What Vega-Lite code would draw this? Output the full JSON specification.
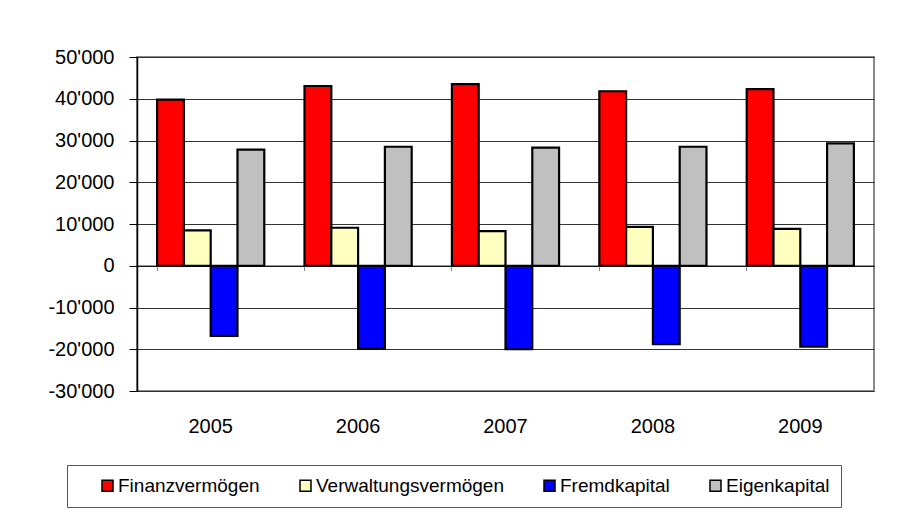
{
  "$schema": "https://vega.github.io/schema/vega-lite/v6.json",
  "width": 737,
  "height": 334,
  "autosize": {"type": "none"},
  "padding": {"left": 137, "top": 57, "right": 23, "bottom": 125},
  "background": "white",
  "data": {
    "values": [
      {"Jahr": "2005", "Serie": "Finanzvermögen", "Wert": 39800},
      {"Jahr": "2005", "Serie": "Verwaltungsvermögen", "Wert": 8450},
      {"Jahr": "2005", "Serie": "Fremdkapital", "Wert": -16800},
      {"Jahr": "2005", "Serie": "Eigenkapital", "Wert": 27800},
      {"Jahr": "2006", "Serie": "Finanzvermögen", "Wert": 43050},
      {"Jahr": "2006", "Serie": "Verwaltungsvermögen", "Wert": 9100},
      {"Jahr": "2006", "Serie": "Fremdkapital", "Wert": -19900},
      {"Jahr": "2006", "Serie": "Eigenkapital", "Wert": 28500},
      {"Jahr": "2007", "Serie": "Finanzvermögen", "Wert": 43500},
      {"Jahr": "2007", "Serie": "Verwaltungsvermögen", "Wert": 8300},
      {"Jahr": "2007", "Serie": "Fremdkapital", "Wert": -20000},
      {"Jahr": "2007", "Serie": "Eigenkapital", "Wert": 28300},
      {"Jahr": "2008", "Serie": "Finanzvermögen", "Wert": 41800},
      {"Jahr": "2008", "Serie": "Verwaltungsvermögen", "Wert": 9300},
      {"Jahr": "2008", "Serie": "Fremdkapital", "Wert": -18800},
      {"Jahr": "2008", "Serie": "Eigenkapital", "Wert": 28500},
      {"Jahr": "2009", "Serie": "Finanzvermögen", "Wert": 42300},
      {"Jahr": "2009", "Serie": "Verwaltungsvermögen", "Wert": 8850},
      {"Jahr": "2009", "Serie": "Fremdkapital", "Wert": -19400},
      {"Jahr": "2009", "Serie": "Eigenkapital", "Wert": 29300}
    ]
  },
  "mark": {"type": "bar", "stroke": "black", "strokeWidth": 2.2},
  "encoding": {
    "x": {
      "field": "Jahr",
      "type": "nominal",
      "scale": {"paddingInner": 0.273, "paddingOuter": 0.1365},
      "axis": {
        "title": null,
        "orient": "bottom",
        "offset": -125.4,
        "domainColor": "#000000",
        "domainWidth": 1,
        "ticks": true,
        "bandPosition": 0,
        "tickColor": "#888888",
        "tickSize": 5,
        "labelPadding": 146,
        "labelFontSize": 20,
        "labelAngle": 0,
        "labelColor": "#000000",
        "grid": false,
        "zindex": 1
      }
    },
    "xOffset": {
      "field": "Serie",
      "type": "nominal",
      "sort": ["Finanzvermögen", "Verwaltungsvermögen", "Fremdkapital", "Eigenkapital"],
      "scale": {"paddingInner": 0, "paddingOuter": 0}
    },
    "y": {
      "field": "Wert",
      "type": "quantitative",
      "scale": {"domain": [-30000, 50000], "nice": false, "zero": false},
      "axis": {
        "title": null,
        "values": [-30000, -20000, -10000, 0, 10000, 20000, 30000, 40000, 50000],
        "labelExpr": "(datum.value < 0 ? '-' : '') + replace(format(abs(datum.value), ','), ',', \"'\")",
        "grid": true,
        "gridColor": "#333333",
        "gridWidth": 1,
        "domainColor": "#000000",
        "domainWidth": 1.5,
        "tickColor": "#000000",
        "tickSize": 8,
        "labelPadding": 15,
        "labelFontSize": 20,
        "labelColor": "#000000"
      }
    },
    "color": {
      "field": "Serie",
      "type": "nominal",
      "scale": {
        "domain": ["Finanzvermögen", "Verwaltungsvermögen", "Fremdkapital", "Eigenkapital"],
        "range": ["#FF0000", "#FFFFC0", "#0000FF", "#C0C0C0"]
      },
      "legend": {
        "orient": "none",
        "legendX": -70,
        "legendY": 408,
        "direction": "horizontal",
        "columns": 4,
        "title": " ",
        "titleOrient": "left",
        "titleFontSize": 1,
        "titlePadding": 20,
        "padding": 11,
        "strokeColor": "#555555",
        "symbolType": "square",
        "symbolSize": 121,
        "symbolStrokeColor": "#000000",
        "symbolStrokeWidth": 1.5,
        "symbolOpacity": 1,
        "labelFontSize": 19,
        "labelColor": "#000000",
        "labelOffset": 1,
        "labelLimit": 400,
        "columnPadding": 36
      }
    }
  },
  "config": {
    "font": "Liberation Sans",
    "view": {"stroke": "#888888", "strokeWidth": 2}
  }
}
